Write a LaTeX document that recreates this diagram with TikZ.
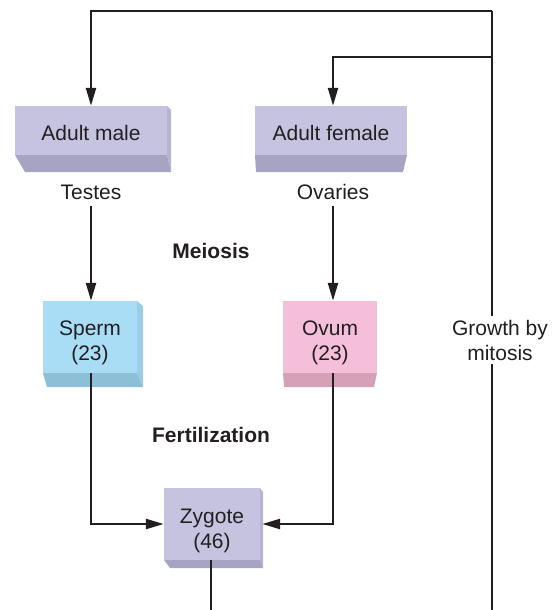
\documentclass[tikz,border=0pt]{standalone}
\usepackage{fontspec}
\setmainfont{Liberation Sans}
\usetikzlibrary{arrows.meta}
\definecolor{ink}{HTML}{231F20}
\definecolor{lavfront}{HTML}{C6C3E1}
\definecolor{lavside}{HTML}{B7B4D3}
\definecolor{lavbottom}{HTML}{A7A4C3}
\definecolor{bluefront}{HTML}{A9DDF6}
\definecolor{blueside}{HTML}{9CCDE6}
\definecolor{bluebottom}{HTML}{8DBFD7}
\definecolor{pinkfront}{HTML}{F5BFDA}
\definecolor{pinkbottom}{HTML}{D5A1B9}
\begin{document}
\begin{tikzpicture}[x=1pt,y=-1pt,
  txt/.style={font=\fontsize{21}{25}\selectfont, text=ink, align=center, inner sep=0pt},
  boldtxt/.style={txt, font=\fontsize{21}{25}\selectfont\bfseries},
  front/.style={txt, minimum width=#1, minimum height=72pt, inner sep=0pt},
  widefront/.style={txt, minimum width=152pt, minimum height=49pt, inner sep=0pt},
  conn/.style={draw=ink, line width=2.4pt},
  arr/.style={conn, -{Triangle[width=10pt,length=18pt]}},
]
\useasboundingbox (0,0) rectangle (554,610);

% 3D faces
\fill[lavside] (167,106) -- (171,110) -- (171,172) -- (167,155) -- cycle;
\fill[lavbottom] (15,155) -- (167,155) -- (171,172) -- (25,172) -- cycle;
\fill[lavbottom] (255,155) -- (407,155) -- (403,172) -- (256,172) -- cycle;
\fill[blueside] (137,301) -- (143,306) -- (143,387) -- (137,373) -- cycle;
\fill[bluebottom] (43,373) -- (137,373) -- (143,387) -- (47,387) -- cycle;
\fill[pinkbottom] (283,373) -- (377,373) -- (374,387) -- (284,387) -- cycle;
\fill[lavside] (260,488) -- (263,492) -- (263,568) -- (260,560) -- cycle;
\fill[lavbottom] (164,560) -- (260,560) -- (263,568) -- (170,568) -- cycle;

% front faces
\node[widefront, fill=lavfront] (male) at (91,130.5) {\rule{0pt}{21pt}Adult male};
\node[widefront, fill=lavfront] (female) at (331,130.5) {\rule{0pt}{21pt}Adult female};
\node[front=94pt, fill=bluefront] (sperm) at (90,337) {\rule{0pt}{27pt}Sperm\\(23)};
\node[front=94pt, fill=pinkfront] (ovum) at (330,337) {\rule{0pt}{27pt}Ovum\\(23)};
\node[front=96pt, fill=lavfront] (zygote) at (212,524) {\rule{0pt}{29pt}Zygote\\(46)};

% labels
\node[txt] (testes) at (91,192) {Testes};
\node[txt] (ovaries) at (333,192) {Ovaries};
\node[boldtxt] (meiosis) at (211,251) {Meiosis};
\node[boldtxt] (fert) at (211,435) {Fertilization};

% coordinates
\coordinate (zbot) at (211,612);
\coordinate (rbot) at (492,612);
\coordinate (rtop) at (492,11);
\coordinate (rmid) at (492,57);
\coordinate (tdn) at (91,206);
\coordinate (odn) at (333,206);

% connectors
\draw[arr] (tdn) -- (tdn |- sperm.north);
\draw[arr] (odn) -- (odn |- ovum.north);
\draw[arr] (sperm.south -| tdn) |- (zygote.west);
\draw[arr] (ovum.south -| odn) |- ([xshift=2pt]zygote.east);
\draw[conn] (zbot) -- (zbot |- zygote.south);
\draw[conn] (rbot) -- (rtop);
\draw[arr] (rtop) -| (tdn |- male.north);
\draw[arr] (rmid) -| (odn |- female.north);

\node[txt, fill=white, inner ysep=4pt] (growth) at (500,340) {Growth by\\mitosis};
\end{tikzpicture}
\end{document}
